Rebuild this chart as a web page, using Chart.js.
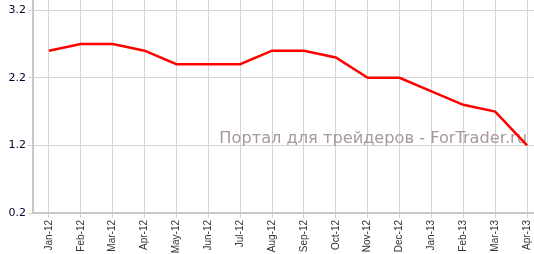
<!DOCTYPE html>
<html>
<head>
<meta charset="utf-8">
<script src="https://cdn.jsdelivr.net/npm/chart.js@4.4.1/dist/chart.umd.min.js"></script>
<style>
  html, body { margin: 0; padding: 0; background: #fff; overflow: hidden; }
  #wrap { width: 534px; height: 254px; overflow: hidden; }
</style>
</head>
<body>
<div id="wrap"><canvas id="chart" width="543" height="254"></canvas></div>
<script>
const months = ['Jan-12', 'Feb-12', 'Mar-12', 'Apr-12', 'May-12', 'Jun-12', 'Jul-12', 'Aug-12',
  'Sep-12', 'Oct-12', 'Nov-12', 'Dec-12', 'Jan-13', 'Feb-13', 'Mar-13', 'Apr-13'];
const rates = [2.6, 2.7, 2.7, 2.6, 2.4, 2.4, 2.4, 2.6, 2.6, 2.5, 2.2, 2.2, 2.0, 1.8, 1.7, 1.2];
const yTicks = [0.2, 1.2, 2.2, 3.2];
const watermark = 'Портал для трейдеров - ForTrader.ru';

// watermark text, drawn under the line
const watermarkPlugin = {
  id: 'watermark',
  beforeDatasetsDraw(chart) {
    const ctx = chart.ctx;
    ctx.save();
    ctx.font = '16.2px "DejaVu Sans", Verdana, sans-serif';
    ctx.fillStyle = '#a89898';
    ctx.textAlign = 'right';
    ctx.textBaseline = 'alphabetic';
    ctx.fillText(watermark, 527, 143);
    ctx.restore();
  }
};

new Chart(document.getElementById('chart'), {
  type: 'line',
  data: {
    labels: months,
    datasets: [{
      data: rates,
      borderColor: '#ff0000',
      borderWidth: 2.5,
      pointRadius: 0,
      tension: 0,
      fill: false
    }]
  },
  options: {
    responsive: false,
    animation: false,
    devicePixelRatio: 1,
    layout: { padding: 0 },
    plugins: { legend: { display: false }, tooltip: { enabled: false } },
    scales: {
      x: {
        offset: true,
        grid: { offset: false, color: '#d4d4d4', lineWidth: 1, tickLength: 5 },
        border: { color: '#c8c8c8', width: 2 },
        ticks: {
          maxRotation: 90, minRotation: 90, autoSkip: false, padding: 2,
          color: '#333', font: { family: '"Liberation Sans", Arial, sans-serif', size: 10 }
        },
        afterFit(scale) { scale.height = 41; }
      },
      y: {
        min: 0.2,
        max: 3.35,
        afterBuildTicks(scale) { scale.ticks = yTicks.map(v => ({ value: v })); },
        grid: { color: '#d4d4d4', lineWidth: 1, tickLength: 5 },
        border: { color: '#c8c8c8', width: 2 },
        ticks: {
          padding: 2, color: '#000033',
          font: { family: '"DejaVu Sans", Verdana, sans-serif', size: 11 },
          callback: v => v.toFixed(1)
        },
        afterFit(scale) {
          scale.width = 33;
          scale.paddingTop = 0;
          scale.paddingBottom = 0;
        }
      }
    }
  },
  plugins: [watermarkPlugin]
});
</script>
</body>
</html>
